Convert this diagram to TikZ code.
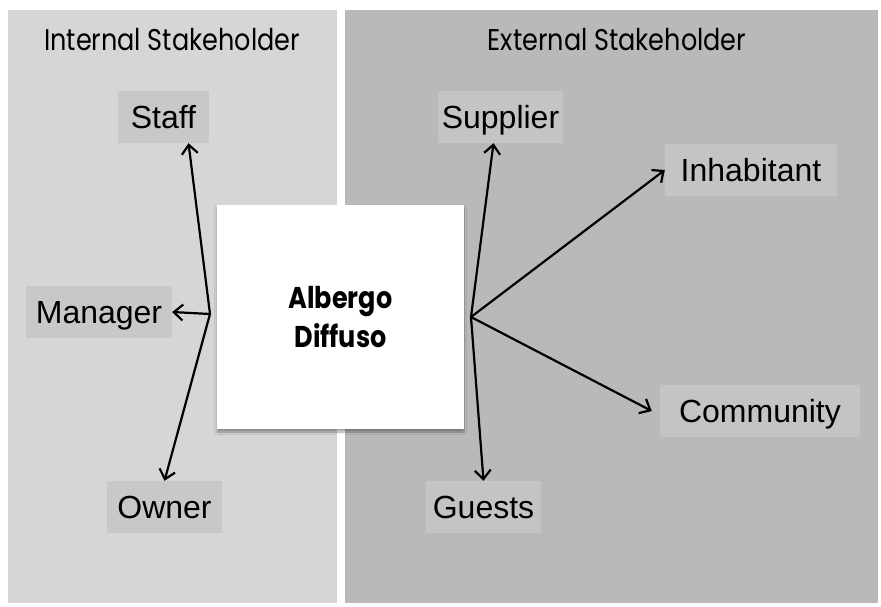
\documentclass[tikz,border=0pt]{standalone}
\usepackage{fontspec}
\setmainfont{Liberation Sans}
\newfontfamily\headfont[FakeStretch=0.85]{Poppins}
\usetikzlibrary{arrows.meta,shadows.blur}
\definecolor{intpanel}{HTML}{D6D6D6}
\definecolor{extpanel}{HTML}{B9B9B9}
\definecolor{intlabel}{HTML}{C8C8C8}
\definecolor{extlabel}{HTML}{C4C4C4}
\begin{document}
\begin{tikzpicture}[x=1pt,y=-1pt,
  heading/.style={inner sep=0pt, font=\headfont\fontsize{30}{34}\selectfont},
  hotel/.style={fill=white, minimum width=247pt, minimum height=224pt, align=center,
    font=\headfont\bfseries\fontsize{30}{39}\selectfont,
    blur shadow={shadow xshift=0pt, shadow yshift=-3pt, shadow blur steps=6, shadow opacity=35}},
  stake/.style={fill=#1, minimum height=52pt, inner sep=0pt, text height=23pt, text depth=0pt,
    font=\fontsize{32}{36}\selectfont},
  link/.style={-{Straight Barb[length=9pt,width=16pt,line width=2.2pt]}, line width=2.2pt}]
\useasboundingbox (0,0) rectangle (881,607);
\fill [intpanel] (8,10) rectangle (337,603);
\fill [extpanel] (345,10) rectangle (878,603);
\node [heading] (inttitle) at (172,40) {Internal Stakeholder};
\node [heading] (exttitle) at (617,40) {External Stakeholder};
\node [hotel] (ad) at (340.5,317) {Albergo\\Diffuso};
\coordinate (lhub) at (210,314);
\coordinate (rhub) at (471,317);
\node [stake=intlabel, minimum width=91pt] (staff) at (163.5,117) {Staff};
\node [stake=intlabel, minimum width=146pt] (manager) at (99,312) {Manager};
\node [stake=intlabel, minimum width=115pt] (owner) at (164.5,507) {Owner};
\node [stake=extlabel, minimum width=125pt] (supplier) at (500.5,117) {Supplier};
\node [stake=extlabel, minimum width=172pt] (inhabitant) at (751,170) {Inhabitant};
\node [stake=extlabel, minimum width=200pt] (community) at (760,411) {Community};
\node [stake=extlabel, minimum width=115pt] (guests) at (483.5,507) {Guests};
\draw [link] (lhub) -- ([xshift=25pt]staff.south);
\draw [link] (lhub) -- (manager.east);
\draw [link] (lhub) -- (owner.north);
\draw [link] (rhub) -- ([xshift=-7pt]supplier.south);
\draw [link] (rhub) -- (inhabitant.west);
\draw [link] (rhub) -- ([xshift=-8pt]community.west);
\draw [link] (rhub) -- (guests.north);
\end{tikzpicture}
\end{document}
